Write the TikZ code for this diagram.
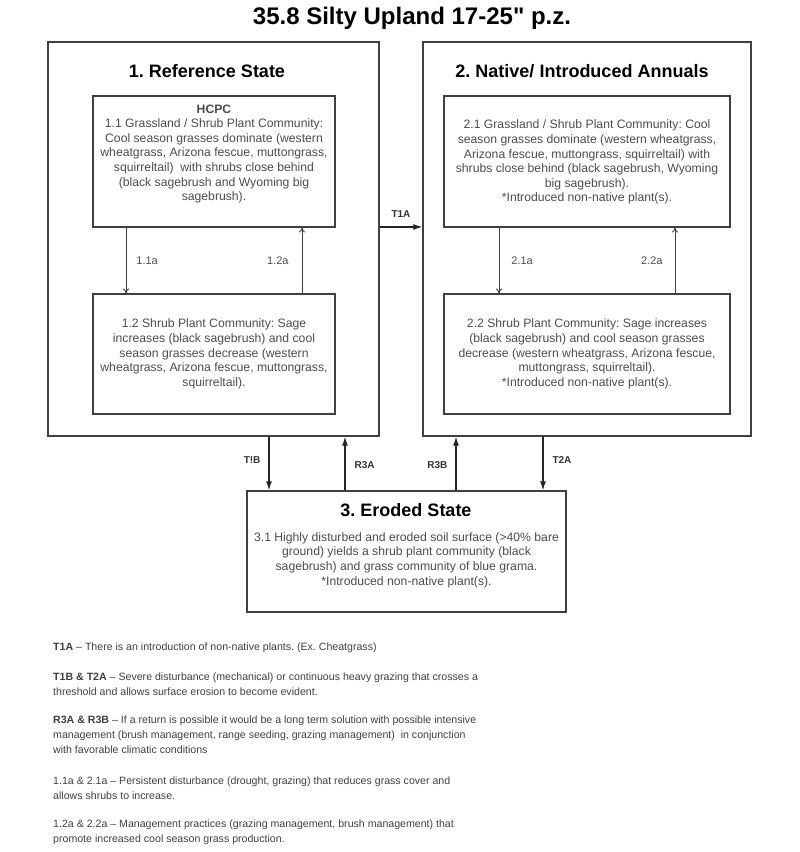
\documentclass[tikz,border=0pt]{standalone}
\usepackage{fontspec}
\setmainfont{Liberation Sans}
\usetikzlibrary{positioning,arrows.meta}

\tikzset{
  statebox/.style={draw=black!75, line width=1.4pt, minimum width=#1, inner sep=0pt},
  commbox/.style={draw=black!75, line width=1.1pt, minimum width=#1, inner sep=0pt},
  boxtxt/.style={inner sep=0pt, align=center, text=black!70, font=\fontsize{12.2}{14.6}\selectfont},
  statetitle/.style={font=\fontsize{18}{20}\selectfont\bfseries, inner sep=0pt},
  pathway/.style={draw=black!75, line width=0.9pt, -{To[length=5pt,width=6pt]}},
  trans/.style={draw=black!85, line width=1.1pt, -{Latex[length=9pt,width=6pt]}},
  pwlabel/.style={text=black!70, font=\fontsize{11}{13}\selectfont, inner sep=0pt},
  trlabel/.style={text=black!80, font=\fontsize{10}{12}\selectfont\bfseries, inner sep=0pt},
  legtxt/.style={inner sep=0pt, align=left, anchor=north west, text=black!75, font=\fontsize{10.6}{14.6}\selectfont}
}

\begin{document}
\frenchspacing
\begin{tikzpicture}[x=1pt, y=-1pt]
  \useasboundingbox (0,0) rectangle (800,852);

  \node[font=\fontsize{24}{26}\selectfont\bfseries, inner sep=0pt] (title) at (412,18) {35.8 Silty Upland 17-25\textquotedbl{} p.z.};

  % states
  \node[statebox=331pt, minimum height=394pt] (ref) at (213.5,239) {};
  \node[statebox=328pt, minimum height=394pt] (nat) at (587,239) {};
  \node[statebox=319pt, minimum height=121pt] (ero) at (406.5,551.5) {};

  \node[statetitle] at (207,71) {1. Reference State};
  \node[statetitle] at (582,71) {2. Native/ Introduced Annuals};
  \node[statetitle] at (406,510) {3. Eroded State};

  % plant communities
  \node[commbox=242pt, minimum height=131pt] (c11) at (214,161.5) {};
  \node[commbox=242pt, minimum height=120pt] (c12) at (214,354) {};
  \node[commbox=286pt, minimum height=131pt] (c21) at (587,161.5) {};
  \node[commbox=286pt, minimum height=120pt] (c22) at (587,354) {};

  \node[boxtxt, below=9pt of c11.north] {\textbf{HCPC}\\
    1.1 Grassland / Shrub Plant Community:\\
    Cool season grasses dominate (western\\
    wheatgrass, Arizona fescue, muttongrass,\\
    squirreltail)~ with shrubs close behind\\
    (black sagebrush and Wyoming big\\
    sagebrush).};
  \node[boxtxt, below=24.5pt of c21.north] {2.1 Grassland / Shrub Plant Community: Cool\\
    season grasses dominate (western wheatgrass,\\
    Arizona fescue, muttongrass, squirreltail) with\\
    shrubs close behind (black sagebrush, Wyoming\\
    big sagebrush).\\
    *Introduced non-native plant(s).};
  \node[boxtxt, below=25.5pt of c12.north] {1.2 Shrub Plant Community: Sage\\
    increases (black sagebrush) and cool\\
    season grasses decrease (western\\
    wheatgrass, Arizona fescue, muttongrass,\\
    squirreltail).};
  \node[boxtxt, below=25.5pt of c22.north] {2.2 Shrub Plant Community: Sage increases\\
    (black sagebrush) and cool season grasses\\
    decrease (western wheatgrass, Arizona fescue,\\
    muttongrass, squirreltail).\\
    *Introduced non-native plant(s).};
  \node[boxtxt, below=42pt of ero.north] {3.1 Highly disturbed and eroded soil surface (>40\% bare\\
    ground) yields a shrub plant community (black\\
    sagebrush) and grass community of blue grama.\\
    *Introduced non-native plant(s).};

  % community pathways
  \draw[pathway] ([xshift=-88pt]c11.south) -- node[pwlabel, right=10pt] {1.1a} ([xshift=-88pt]c12.north);
  \draw[pathway] ([xshift=88pt]c12.north) -- node[pwlabel, left=13pt] {1.2a} ([xshift=88pt]c11.south);
  \draw[pathway] ([xshift=-88pt]c21.south) -- node[pwlabel, right=12pt] {2.1a} ([xshift=-88pt]c22.north);
  \draw[pathway] ([xshift=88pt]c22.north) -- node[pwlabel, left=12pt] {2.2a} ([xshift=88pt]c21.south);

  % transitions and restorations
  \draw[trans] ([yshift=12pt]ref.east) -- node[trlabel, above=9pt] {T1A} ([yshift=12pt]nat.west);
  \draw[trans] ([xshift=55.5pt]ref.south) -- node[trlabel, left=8pt, yshift=3pt] {T!B} ([xshift=55.5pt]ref.south |- ero.north);
  \draw[trans] ([xshift=131.5pt]ref.south |- ero.north) -- node[trlabel, right=9pt, yshift=-2pt] {R3A} ([xshift=131.5pt]ref.south);
  \draw[trans] ([xshift=-131pt]nat.south |- ero.north) -- node[trlabel, left=8pt, yshift=-2pt] {R3B} ([xshift=-131pt]nat.south);
  \draw[trans] ([xshift=-44pt]nat.south) -- node[trlabel, right=9pt, yshift=3pt] {T2A} ([xshift=-44pt]nat.south |- ero.north);

  % legend
  \node[legtxt] (lg1) at (53,643) {\textbf{T1A} -- There is an introduction of non-native plants. (Ex. Cheatgrass)};
  \node[legtxt] (lg2) at (53,673) {\textbf{T1B \& T2A} -- Severe disturbance (mechanical) or continuous heavy grazing that crosses a\\
    threshold and allows surface erosion to become evident.};
  \node[legtxt] (lg3) at (53,716) {\textbf{R3A \& R3B} -- If a return is possible it would be a long term solution with possible intensive\\
    management (brush management, range seeding, grazing management)~ in conjunction\\
    with favorable climatic conditions};
  \node[legtxt] (lg4) at (53,777) {1.1a \& 2.1a -- Persistent disturbance (drought, grazing) that reduces grass cover and\\
    allows shrubs to increase.};
  \node[legtxt] (lg5) at (53,820) {1.2a \& 2.2a -- Management practices (grazing management, brush management) that\\
    promote increased cool season grass production.};
\end{tikzpicture}
\end{document}
